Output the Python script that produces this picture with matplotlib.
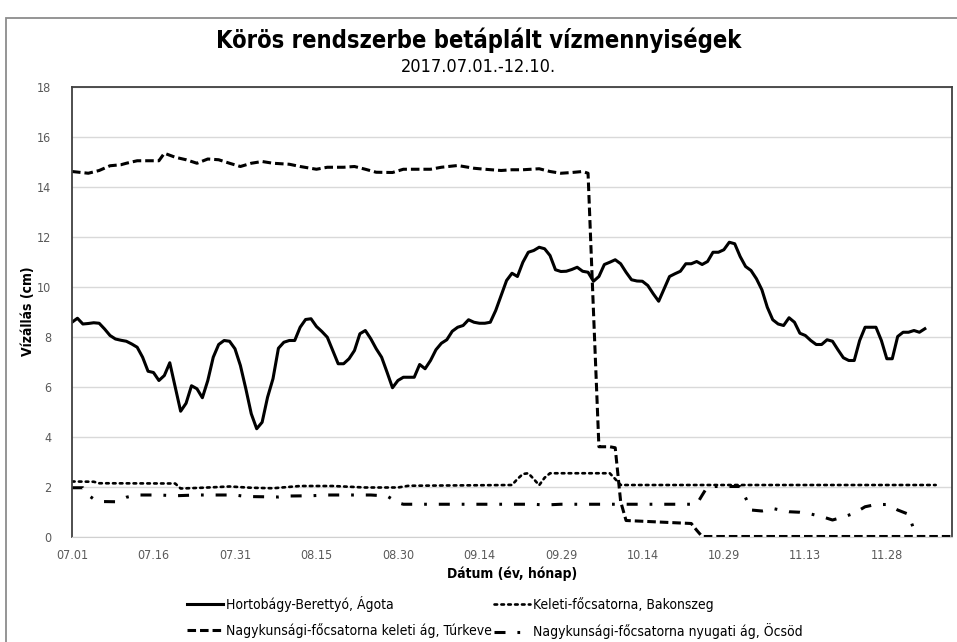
# -*- coding: utf-8 -*-

import matplotlib.pyplot as plt
from matplotlib.patches import Rectangle

# napok 2017.07.01-tol szamolva
ago_nap = list(range(0, 158))
ago = [8.57, 8.73, 8.50, 8.52, 8.55, 8.53, 8.30, 8.04, 7.90, 7.85,
       7.81, 7.70, 7.57, 7.17, 6.61, 6.56, 6.24, 6.44, 6.95, 5.97,
       5.01, 5.33, 6.03, 5.91, 5.55, 6.24, 7.17, 7.68, 7.84, 7.81,
       7.51, 6.84, 5.91, 4.91, 4.31, 4.57, 5.57, 6.31, 7.53, 7.77,
       7.84, 7.84, 8.37, 8.68, 8.71, 8.40, 8.20, 7.97, 7.44, 6.91,
       6.91, 7.11, 7.44, 8.11, 8.24, 7.91, 7.51, 7.17, 6.57, 5.95,
       6.24, 6.37, 6.37, 6.37, 6.88, 6.71, 7.04, 7.47, 7.73, 7.87,
       8.21, 8.37, 8.44, 8.67, 8.57, 8.53, 8.53, 8.57, 9.04, 9.64,
       10.24, 10.53, 10.40, 10.97, 11.37, 11.44, 11.57, 11.51, 11.24, 10.67,
       10.60, 10.61, 10.68, 10.77, 10.61, 10.57, 10.21, 10.40, 10.88, 10.97,
       11.07, 10.91, 10.57, 10.27, 10.22, 10.21, 10.04, 9.71, 9.41, 9.91,
       10.40, 10.51, 10.61, 10.91, 10.91, 11.00, 10.88, 11.00, 11.37, 11.37,
       11.47, 11.77, 11.71, 11.20, 10.80, 10.64, 10.31, 9.87, 9.17, 8.67,
       8.50, 8.44, 8.75, 8.57, 8.13, 8.04, 7.84, 7.68, 7.68, 7.87,
       7.81, 7.47, 7.15, 7.04, 7.04, 7.84, 8.37, 8.37, 8.37, 7.84,
       7.11, 7.11, 8.00, 8.17, 8.17, 8.24, 8.17, 8.31]

bak_nap = [0, 4, 5, 19, 20, 24, 29, 33, 37, 42, 48, 54, 60, 62, 81, 82, 83,
           84, 85, 86, 87, 88, 99, 100, 101, 159]
bak = [2.20, 2.19, 2.13, 2.12, 1.92, 1.95, 2.00, 1.95, 1.93, 2.02, 2.02, 1.96,
       1.96, 2.03, 2.06, 2.30, 2.50, 2.53, 2.30, 2.05, 2.35, 2.53, 2.53, 2.30,
       2.06, 2.06]

tur_nap = [0, 3, 5, 7, 9, 10, 12, 16, 17, 19, 21, 23, 25, 27, 29, 31, 33, 35,
           37, 40, 42, 45, 47, 50, 52, 54, 56, 59, 61, 63, 66, 68, 71, 74, 76,
           79, 81, 83, 86, 88, 90, 92, 94, 95, 96, 97, 99, 100, 101, 102, 106,
           110, 114, 115, 116, 162]
tur = [14.60, 14.53, 14.64, 14.83, 14.87, 14.93, 15.03, 15.03, 15.33, 15.17,
       15.07, 14.93, 15.10, 15.07, 14.93, 14.80, 14.93, 15.00, 14.93, 14.89,
       14.80, 14.69, 14.77, 14.77, 14.80, 14.69, 14.57, 14.56, 14.69, 14.69,
       14.69, 14.77, 14.84, 14.73, 14.69, 14.64, 14.67, 14.67, 14.71, 14.60,
       14.53, 14.56, 14.60, 14.53, 9.00, 3.59, 3.59, 3.55, 1.40, 0.64,
       0.60, 0.56, 0.52, 0.25, 0.0, 0.0]

ocs_nap = [0, 2, 3, 4, 5, 8, 10, 12, 16, 19, 23, 27, 30, 32, 35, 38, 40, 44,
           47, 52, 55, 58, 60, 61, 85, 87, 90, 115, 116, 117, 123, 124, 125,
           127, 129, 132, 134, 136, 138, 140, 142, 144, 146, 148, 150, 152,
           154, 155, 156, 157]
ocs = [1.95, 1.95, 1.65, 1.50, 1.40, 1.39, 1.57, 1.66, 1.66, 1.63, 1.66, 1.66,
       1.66, 1.60, 1.59, 1.58, 1.62, 1.63, 1.66, 1.66, 1.66, 1.62, 1.35, 1.29,
       1.29, 1.26, 1.29, 1.29, 1.65, 2.00, 2.00, 1.55, 1.06, 1.02, 1.12, 0.99,
       0.97, 0.90, 0.80, 0.66, 0.78, 0.93, 1.19, 1.28, 1.28, 1.06, 0.89, 0.26,
       0.0, 0.0]

x_ticks = [0, 15, 30, 45, 60, 75, 90, 105, 120, 135, 150]
x_labels = ['07.01', '07.16', '07.31', '08.15', '08.30', '09.14', '09.29',
            '10.14', '10.29', '11.13', '11.28']

plt.rcParams['font.family'] = ['DejaVu Sans']
plt.rcParams['font.stretch'] = 'condensed'

fig = plt.figure(figsize=(9.57, 6.42), dpi=100)
ax = fig.add_axes([72 / 957, 1 - 536.5 / 642, 880 / 957, 450 / 642])

lw = 2.2
l1, = ax.plot(ago_nap, ago, color='black', lw=lw, solid_joinstyle='round',
              label='Hortobágy-Berettyó, Ágota')
l2, = ax.plot(bak_nap, bak, color='black', lw=1.9, dashes=(1, 1.6),
              dash_capstyle='round', label='Keleti-főcsatorna, Bakonszeg')
l3, = ax.plot(tur_nap, tur, color='black', lw=lw, dashes=(2.8, 1.3),
              label='Nagykunsági-főcsatorna keleti ág, Túrkeve')
l4, = ax.plot(ocs_nap, ocs, color='black', lw=lw, dashes=(3.6, 3.9, 0.9, 3.9),
              label='Nagykunsági-főcsatorna nyugati ág, Öcsöd')

ax.set_xlim(0, 162)
ax.set_ylim(0, 18)
ax.set_yticks(range(0, 19, 2))
ax.set_xticks(x_ticks)
ax.set_xticklabels(x_labels)
ax.tick_params(length=0, labelsize=9, labelcolor='#595959')
ax.tick_params(axis='y', pad=15)
ax.tick_params(axis='x', pad=9)
ax.grid(axis='y', color='#d9d9d9', lw=1)
ax.set_axisbelow(True)
for s in ['left', 'top', 'right']:
  ax.spines[s].set_color('#404040')
  ax.spines[s].set_linewidth(1.3)
ax.spines['bottom'].set_color('#d0d0d0')

ax.set_ylabel('Vízállás (cm)', fontsize=10, fontweight='bold')
ax.yaxis.set_label_coords(-0.042, 0.5)
ax.set_xlabel('Dátum (év, hónap)', fontsize=10, fontweight='bold', labelpad=3)

fig.text(0.5, 1 - 40 / 642, 'Körös rendszerbe betáplált vízmennyiségek',
         ha='center', va='center', fontsize=17, fontweight='bold')
fig.text(0.5, 1 - 67 / 642, '2017.07.01.-12.10.', ha='center', va='center',
         fontsize=13)

fig.legend([l1, l3, l2, l4], [l1.get_label(), l3.get_label(), l2.get_label(), l4.get_label()],
           ncol=2, loc='center', bbox_to_anchor=(0.517, 1 - 617.5 / 642),
           frameon=False, fontsize=10, handlelength=2.6, handletextpad=0.2,
           columnspacing=0.2, labelspacing=0.85)

# keret a diagram korul
fig.add_artist(Rectangle((6 / 957, -0.1), 1.2, 1.1 - 18 / 642,
                         transform=fig.transFigure, fill=False,
                         edgecolor='#8c8c8c', lw=1.3, clip_on=False))

fig.savefig('out.png', dpi=100)
